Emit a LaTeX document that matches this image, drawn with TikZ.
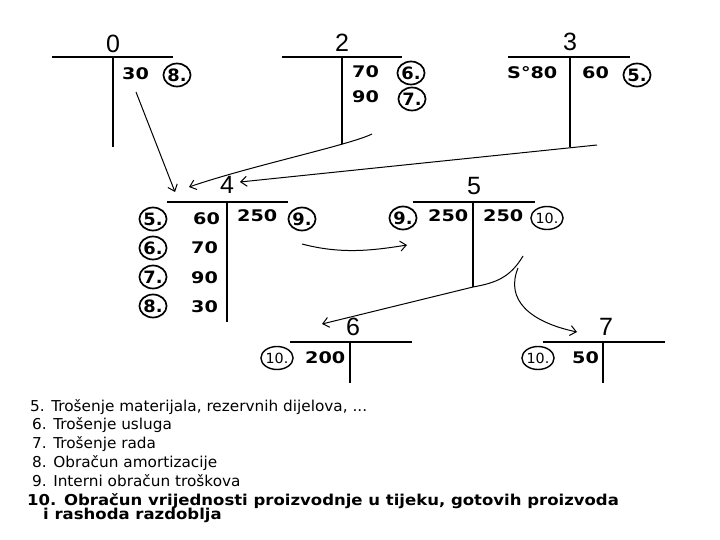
\documentclass[tikz,border=0pt]{standalone}
\usepackage{fontspec}
\usetikzlibrary{arrows.meta,shapes.geometric}
\newfontfamily\numf[FakeStretch=1.2]{DejaVu Sans}
\newfontfamily\circf[FakeStretch=1.05]{DejaVu Sans}
\newfontfamily\ttlf{Liberation Sans}
\newfontfamily\legf[FakeStretch=1.02]{DejaVu Sans}
\newfontfamily\legbf[FakeStretch=1.1]{DejaVu Sans}
\tikzset{
  acc/.style={line width=1.8pt},
  arr/.style={line width=1pt,-{Straight Barb[length=6pt,width=10pt,line width=1pt]}},
  num/.style={anchor=base west,inner sep=0pt,font=\numf\bfseries\fontsize{16}{16}\selectfont},
  ttl/.style={anchor=base,inner sep=0pt,font=\ttlf\fontsize{25}{25}\selectfont},
  circ/.style={ellipse,draw,line width=1.7pt,minimum width=26pt,minimum height=23pt,inner sep=0pt,font=\circf\bfseries\fontsize{17}{17}\selectfont},
  circs/.style={ellipse,draw,line width=1.4pt,minimum width=26pt,minimum height=23pt,inner sep=0pt,font=\legf\fontsize{14}{14}\selectfont},
  leg/.style={anchor=base west,inner sep=0pt,font=\legf\fontsize{15}{15}\selectfont},
  legb/.style={anchor=base west,inner sep=0pt,font=\legbf\bfseries\fontsize{15}{15}\selectfont}
}
\begin{document}
\begin{tikzpicture}[x=1pt,y=-1pt]
\useasboundingbox (0,0) rectangle (720,540);
% account 0
\node[ttl] (t0) at (113,53) {0};
\draw[acc] (52,57) coordinate (h0a) -- (173,57) coordinate (h0b);
\draw[acc] (113,57) coordinate (v0a) -- (113,147) coordinate (v0b);
\node[num] (n0) at (122,80) {30};
\node[circ] (c8a) at (177,75) {8.};
% account 2
\node[ttl] (t2) at (342,52) {2};
\draw[acc] (282,57) coordinate (h2a) -- (402,57) coordinate (h2b);
\draw[acc] (342,57) coordinate (v2a) -- (342,144) coordinate (v2b);
\node[num] (n2a) at (352,78) {70};
\node[num] (n2b) at (352,103) {90};
\node[circ] (c6a) at (411,73) {6.};
\node[circ] (c7a) at (412,99) {7.};
% account 3
\node[ttl] (t3) at (570,51) {3};
\draw[acc] (508,57) coordinate (h3a) -- (630,57) coordinate (h3b);
\draw[acc] (570,57) coordinate (v3a) -- (570,147) coordinate (v3b);
\node[num] (n3a) at (507,79) {S°80};
\node[num] (n3b) at (582,79) {60};
\node[circ] (c5a) at (637,75) {5.};
% account 4
\node[ttl] (t4) at (227,194) {4};
\draw[acc] (167,202) coordinate (h4a) -- (288,202) coordinate (h4b);
\draw[acc] (227,202) coordinate (v4a) -- (227,322) coordinate (v4b);
\node[circ] (c5b) at (153,219) {5.};
\node[circ] (c6b) at (153,248) {6.};
\node[circ] (c7b) at (153,277) {7.};
\node[circ] (c8b) at (153,306) {8.};
\node[num] (n4a) at (193,225) {60};
\node[num] (n4b) at (191,253) {70};
\node[num] (n4c) at (191,283) {90};
\node[num] (n4d) at (191,312) {30};
\node[num] (n4e) at (237,222) {250};
\node[circ] (c9a) at (302,219) {9.};
% account 5
\node[ttl] (t5) at (474,195) {5};
\draw[acc] (413,202) coordinate (h5a) -- (535,202) coordinate (h5b);
\draw[acc] (473,202) coordinate (v5a) -- (473,287) coordinate (v5b);
\node[circ] (c9b) at (403,218) {9.};
\node[num] (n5a) at (428,222) {250};
\node[num] (n5b) at (483,222) {250};
\node[circs] (c10a) at (547,218) {10.};
% account 6
\node[ttl] (t6) at (353,335) {6};
\draw[acc] (290,342) coordinate (h6a) -- (412,342) coordinate (h6b);
\draw[acc] (350,342) coordinate (v6a) -- (350,383) coordinate (v6b);
\node[circs] (c10b) at (277,358) {10.};
\node[num] (n6) at (305,363) {200};
% account 7
\node[ttl] (t7) at (606,335) {7};
\draw[acc] (543,342) coordinate (h7a) -- (665,342) coordinate (h7b);
\draw[acc] (603,342) coordinate (v7a) -- (603,383) coordinate (v7b);
\node[circs] (c10c) at (538,358) {10.};
\node[num] (n7) at (572,363) {50};
% connectors
\coordinate (s0) at (136,92);
\coordinate (e0) at (175,192);
\draw[arr] (s0) -- (e0);
\coordinate (s2) at (372,134);
\coordinate (e2) at (189,187);
\draw[arr] (s2) .. controls (350,145) and (250,166) .. (e2);
\coordinate (s3) at (597,145);
\coordinate (e3) at (240,182);
\draw[arr] (s3) -- (e3);
\coordinate (s9) at (302,244);
\coordinate (e9) at (407,245);
\draw[arr] (s9) .. controls (340,254) and (370,251) .. (e9);
\coordinate (s6) at (523,256);
\coordinate (e6) at (322,324);
\draw[arr] (s6) .. controls (510,278) and (495,283) .. (v5b) -- (e6);
\coordinate (s7) at (518,268);
\coordinate (e7) at (577,332);
\draw[arr] (s7) .. controls (505,300) and (530,322) .. (e7);
% legend
\node[leg] (l5) at (30,411) {5. Trošenje materijala, rezervnih dijelova, ...};
\node[leg] (l6) at (32,429) {6. Trošenje usluga};
\node[leg] (l7) at (32,448) {7. Trošenje rada};
\node[leg] (l8) at (32,467) {8. Obračun amortizacije};
\node[leg] (l9) at (32,486) {9. Interni obračun troškova};
\node[legb] (l10) at (27,505) {10. Obračun vrijednosti proizvodnje u tijeku, gotovih proizvoda};
\node[legb] (l11) at (43,519) {i rashoda razdoblja};
\end{tikzpicture}
\end{document}
